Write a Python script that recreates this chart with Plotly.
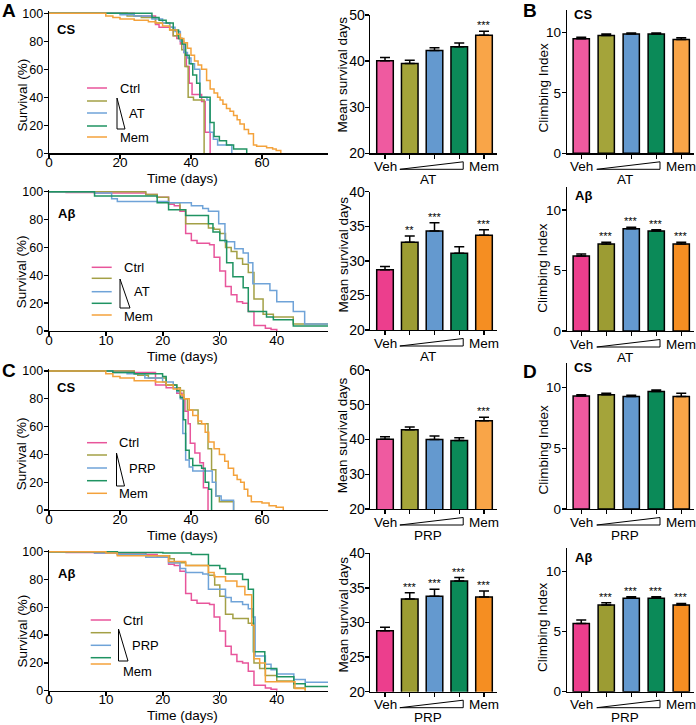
import plotly.graph_objects as go

W, H = 696, 725
FONT = "Liberation Sans, Arial, Helvetica, sans-serif"

# ---------------- data ----------------
groups = ["Veh", "Low", "Mid", "High", "Mem"]

# Panel A - CS survival (days, % alive)
a_cs_ctrl_t = [0, 24, 30, 31, 35, 36, 37, 38, 38.7, 39.5, 40.3, 43, 44, 45.4]
a_cs_ctrl_s = [100, 98, 92, 90, 84, 82, 78, 72, 62, 50, 42, 37, 15, 0]
a_cs_low_t = [0, 22, 26, 30, 34, 35, 36.5, 37.4, 38.3, 39.2, 40.7, 43.7]
a_cs_low_s = [100, 98, 97, 93, 88, 84, 82, 74, 62, 40, 38, 0]
a_cs_mid_t = [0, 20, 24, 29, 32, 34, 35.5, 37, 38, 39, 40, 41, 42.5, 44.5, 45.3, 46.3, 47.5, 51.5]
a_cs_mid_s = [100, 99, 98, 96, 93, 90, 87, 80, 72, 68, 64, 60, 40, 38, 15, 10, 6, 0]
a_cs_high_t = [0, 29, 31, 33, 35, 36.5, 37.5, 38.5, 39.5, 40.5, 41.6, 42.5, 45.4, 46.5, 48, 50, 52, 55.7]
a_cs_high_s = [100, 97, 95, 93, 88, 82, 78, 70, 64, 56, 50, 40, 22, 12, 9, 6, 3, 0]
a_cs_mem_t = [0, 16, 18, 20, 24, 28, 30, 32, 34, 36, 37, 38, 39, 40, 41, 42, 43, 44.4, 45.4, 46.5,
              47.5, 48.2, 49, 50, 51, 52, 53, 53.8, 55, 56.2, 57.6, 58.5, 61.3, 63, 64, 65.3]
a_cs_mem_s = [100, 98, 97, 96, 95, 94, 93, 91, 88, 85, 82, 79, 75, 70, 66, 63, 60, 52, 46, 43,
              40, 38, 35, 32, 30, 27, 24, 21, 17, 14, 6, 5, 4, 3, 2, 0]

# Panel A - Abeta survival
ab_ctrl_t = [0, 3, 8, 17, 19, 21, 22, 23, 24, 25, 26, 28.2, 29, 30, 31, 32, 33, 34, 35, 36, 38, 39, 40]
ab_ctrl_s = [100, 99.5, 99, 98, 96, 91, 90, 86, 70, 65, 63, 62, 53, 43, 32, 26, 21, 20, 14, 4, 2, 1, 0]
a_ab_low_t = [0, 17, 19, 21, 23, 24, 28, 29, 30, 31, 32, 33, 34, 35, 36, 37.6, 39.4, 42.9, 49]
a_ab_low_s = [100, 98, 96, 92, 87, 77, 74, 73, 70, 60, 57, 52, 48, 42, 23, 12, 10, 5, 5]
a_ab_mid_t = [0, 8, 11, 12, 21, 25, 27, 28, 29.8, 30.9, 32.6, 34.1, 35, 35.8, 38.8, 40, 42.9, 44.9, 49]
a_ab_mid_s = [100, 99, 95, 93, 92, 90, 88, 86, 77, 64, 59, 56, 49, 34, 29, 21, 14, 5, 5]
a_ab_high_t = [0, 8, 19, 21, 24, 28, 28.8, 30, 31.2, 32.3, 34.1, 35, 38.2, 39.4, 42.9, 49]
a_ab_high_s = [100, 97, 92, 87, 83, 77, 71, 65, 49, 39, 31, 14, 10, 8, 3.5, 3.5]

# Panel C - CS survival
c_cs_ctrl_t = [0, 24, 30, 33, 36, 37.5, 38.3, 39.2, 39.8, 41.1, 42.5, 43.5, 44.8]
c_cs_ctrl_s = [100, 99, 90, 88, 84, 80, 71, 62, 48, 41, 34, 16, 0]
c_cs_low_t = [0, 24, 25, 28, 33, 36, 37, 38, 39, 42, 44.8, 45.8, 47, 48, 52]
c_cs_low_s = [100, 98, 97, 95, 90, 88, 86, 80, 72, 62, 44, 29, 10, 6, 0]
c_cs_mid_t = [0, 18, 22, 27, 32, 35, 36, 37, 37.7, 38.5, 39.5, 40.5, 46, 47, 48.5, 52]
c_cs_mid_s = [100, 99, 98, 95, 92, 88, 85, 80, 55, 36, 31, 28, 20, 10, 7, 0]
c_cs_high_t = [0, 18, 24, 32, 33, 36, 37, 37.9, 38.5, 39.5, 40.5, 43, 44, 45, 45.8]
c_cs_high_s = [100, 99, 98, 96, 90, 86, 81, 65, 43, 37, 32, 30, 20, 15, 0]
c_cs_mem_t = [0, 16, 18, 20, 24, 30, 33, 35, 37, 38, 39.5, 40.5, 42, 43, 44, 45, 46.5, 48, 49.5,
              50.5, 52, 53, 54, 55, 56, 57, 60, 62, 64, 66]
c_cs_mem_s = [100, 98, 96, 95, 93, 92, 90, 87, 83, 80, 72, 68, 64, 62, 56, 49, 44, 40, 35,
              30, 25, 22, 20, 15, 10, 6, 5, 3, 2, 0]

# Panel C - Abeta survival
c_ab_low_t = [0, 12, 17, 21.2, 22, 24, 28, 29.1, 30, 31, 32.3, 35, 36, 37, 38, 40, 43, 45]
c_ab_low_s = [100, 98, 97, 95, 92, 90, 83, 76, 68, 55, 52, 48.5, 20, 16, 11, 7, 2, 0]
c_ab_mid_t = [0, 8, 12, 17, 21, 23, 24, 27, 28, 31, 32, 34, 35, 35.8, 36.2, 38, 39, 40, 43, 45, 49]
c_ab_mid_s = [100, 99, 98, 96, 92, 88, 85, 84, 73, 67, 64, 62, 59, 53, 25, 19, 15, 12, 8, 6, 6]
c_ab_high_t = [0, 12, 20, 25, 28, 30, 31, 34, 35, 35.9, 37.9, 40, 43, 45, 49]
c_ab_high_s = [100, 99.5, 99, 98, 90, 88, 84, 80, 73, 28, 16, 10, 5, 3, 3]
c_ab_mem_t = [0, 10, 12, 21, 24, 28, 29, 31, 33, 34.4, 35.6, 36, 37, 38, 43.2, 45]
c_ab_mem_s = [100, 99, 97, 93, 90, 85, 82, 79, 75, 69, 47, 23, 20, 6.5, 1.5, 0]

# Mean survival days (bars) and SEM
a_cs_mean = [40.1, 39.5, 42.3, 43.1, 45.6]
a_cs_mean_err = [0.7, 0.7, 0.6, 0.8, 0.9]
a_ab_mean = [28.7, 32.7, 34.3, 31.1, 33.7]
a_ab_mean_err = [0.5, 0.9, 1.2, 0.95, 0.8]
c_cs_mean = [40.1, 42.8, 40.0, 39.7, 45.4]
c_cs_mean_err = [0.7, 0.8, 1.0, 0.8, 1.0]
c_ab_mean = [28.8, 33.4, 33.8, 36.0, 33.7]
c_ab_mean_err = [0.5, 0.9, 1.0, 0.5, 0.85]

# Climbing index (bars) and SEM
b_cs_climb = [9.47, 9.75, 9.86, 9.86, 9.42]
b_cs_climb_err = [0.13, 0.11, 0.08, 0.08, 0.13]
b_ab_climb = [6.2, 7.19, 8.46, 8.26, 7.19]
b_ab_climb_err = [0.16, 0.14, 0.11, 0.11, 0.14]
d_cs_climb = [9.31, 9.4, 9.26, 9.67, 9.26]
d_cs_climb_err = [0.09, 0.13, 0.11, 0.14, 0.27]
d_ab_climb = [5.69, 7.22, 7.78, 7.78, 7.22]
d_ab_climb_err = [0.28, 0.2, 0.14, 0.14, 0.14]

# significance marks
a_cs_mean_sig = ["", "", "", "", "***"]
a_ab_mean_sig = ["", "**", "***", "", "***"]
c_cs_mean_sig = ["", "", "", "", "***"]
c_ab_mean_sig = ["", "***", "***", "***", "***"]
b_cs_climb_sig = ["", "", "", "", ""]
b_ab_climb_sig = ["", "***", "***", "***", "***"]
d_cs_climb_sig = ["", "", "", "", ""]
d_ab_climb_sig = ["", "***", "***", "***", "***"]

# ---------------- styling ----------------
LINE = ['#e8559b', '#a3a046', '#6fa3d8', '#1f9362', '#f4a23b']
BAR_CS = ['#ef5aa0', '#a4a43a', '#6499cf', '#0b8a58', '#f9a548']
BAR_AB = ['#ec3e8d', '#9c9c33', '#6499cf', '#0b8a58', '#f58e22']


def px(x):
    return x / W


def py(y):
    return 1 - y / H


def axn(k, kind):
    return f'{kind}axis' if k == 1 else f'{kind}axis{k}'


def ref(k, kind):
    return kind if k == 1 else f'{kind}{k}'


axis_common = dict(showline=True, linecolor='black', linewidth=1.3, ticks='outside', ticklen=4,
                   tickwidth=1.3, tickcolor='black', showgrid=False, zeroline=False,
                   fixedrange=True, automargin=False)

rows = [
    dict(curves=[(a_cs_ctrl_t, a_cs_ctrl_s), (a_cs_low_t, a_cs_low_s), (a_cs_mid_t, a_cs_mid_s),
                 (a_cs_high_t, a_cs_high_s), (a_cs_mem_t, a_cs_mem_s)],
         xmax=78.6, xticks=[0, 20, 40, 60], surv=(13.3, 153.3),
         mean=a_cs_mean, mean_err=a_cs_mean_err, mean_sig=a_cs_mean_sig, mrange=[20, 50],
         mticks=[20, 30, 40, 50], mdom=(15, 153.3),
         climb=b_cs_climb, climb_err=b_cs_climb_err, climb_sig=b_cs_climb_sig,
         crange=[0, 11.85], cdom=(10, 153.3), bars=BAR_CS, drug='AT', tag='CS',
         title_y=95, mtitle_y=75, ctitle_y=88,
         leg=dict(x0=87, x1=107, ys=[88, 101, 113, 126, 137], tx=118, tri=(117, 125, 98, 129),
                  mid_x=127, mem_y=137)),
    dict(curves=[(ab_ctrl_t, ab_ctrl_s), (a_ab_low_t, a_ab_low_s), (a_ab_mid_t, a_ab_mid_s),
                 (a_ab_high_t, a_ab_high_s), None],
         xmax=49, xticks=[0, 10, 20, 30, 40], surv=(191.7, 331),
         mean=a_ab_mean, mean_err=a_ab_mean_err, mean_sig=a_ab_mean_sig, mrange=[20, 40],
         mticks=[20, 25, 30, 35, 40], mdom=(191.7, 330),
         climb=b_ab_climb, climb_err=b_ab_climb_err, climb_sig=b_ab_climb_sig,
         crange=[0, 11.93], cdom=(186.7, 331), bars=BAR_AB, drug='AT', tag='Aβ',
         title_y=271.7, mtitle_y=255, ctitle_y=268.3,
         leg=dict(x0=91.7, x1=111.7, ys=[267.3, 278.3, 291.7, 303.3, 315], tx=121.7,
                  tri=(120, 130, 279, 308), mid_x=131.7, mem_y=316.7)),
    dict(curves=[(c_cs_ctrl_t, c_cs_ctrl_s), (c_cs_low_t, c_cs_low_s), (c_cs_mid_t, c_cs_mid_s),
                 (c_cs_high_t, c_cs_high_s), (c_cs_mem_t, c_cs_mem_s)],
         xmax=78.6, xticks=[0, 20, 40, 60], surv=(371, 510),
         mean=c_cs_mean, mean_err=c_cs_mean_err, mean_sig=c_cs_mean_sig, mrange=[20, 60],
         mticks=[20, 30, 40, 50, 60], mdom=(370, 509),
         climb=d_cs_climb, climb_err=d_cs_climb_err, climb_sig=d_cs_climb_sig,
         crange=[0, 12.0], cdom=(363.3, 509), bars=BAR_CS, drug='PRP', tag='CS',
         title_y=453.7, mtitle_y=435.8, ctitle_y=450,
         leg=dict(x0=87, x1=107, ys=[442.7, 455, 468, 480.7, 493.3], tx=117,
                  tri=(116.5, 124.5, 453, 486), mid_x=127, mem_y=493.3)),
    dict(curves=[(ab_ctrl_t, ab_ctrl_s), (c_ab_low_t, c_ab_low_s), (c_ab_mid_t, c_ab_mid_s),
                 (c_ab_high_t, c_ab_high_s), (c_ab_mem_t, c_ab_mem_s)],
         xmax=49, xticks=[0, 10, 20, 30, 40], surv=(551.7, 690.7),
         mean=c_ab_mean, mean_err=c_ab_mean_err, mean_sig=c_ab_mean_sig, mrange=[20, 40],
         mticks=[20, 25, 30, 35, 40], mdom=(553.3, 691.7),
         climb=d_ab_climb, climb_err=d_ab_climb_err, climb_sig=d_ab_climb_sig,
         crange=[0, 11.95], cdom=(548.3, 691.7), bars=BAR_AB, drug='PRP', tag='Aβ',
         title_y=631, mtitle_y=615, ctitle_y=627.5,
         leg=dict(x0=90.7, x1=111, ys=[620, 632.7, 645.3, 657.7, 664], tx=121,
                  tri=(118.5, 128, 629, 661), mid_x=130, mem_y=671.5)),
]

fig = go.Figure()
layout = dict(width=W, height=H, autosize=False,
              margin=dict(l=0, r=0, t=0, b=0, pad=0, autoexpand=False),
              paper_bgcolor='white', plot_bgcolor='white', showlegend=False,
              font=dict(family=FONT, size=13, color='black'))
ann = []
shapes = []


def text(x, y, s, size=13, bold=False, xanchor='center', yanchor='middle', angle=0):
    ann.append(dict(x=px(x), y=py(y), xref='paper', yref='paper', text=f'<b>{s}</b>' if bold else s,
                    showarrow=False, xanchor=xanchor, yanchor=yanchor, textangle=angle,
                    font=dict(family=FONT, size=size, color='black')))


xpos = list(range(len(groups)))

for r, R in enumerate(rows):
    ks, km, kc = 3 * r + 1, 3 * r + 2, 3 * r + 3
    top, bot = R['surv']
    pad = (bot - top) / 100 * 1.5
    # survival axes
    layout[axn(ks, 'x')] = dict(axis_common, domain=[px(49), px(328)], range=[0, R['xmax']],
                                tickvals=R['xticks'], anchor=ref(ks, 'y'),
                                tickfont=dict(size=13.5), ticklabelstandoff=-8)
    layout[axn(ks, 'y')] = dict(axis_common, domain=[py(bot), py(top - pad)], range=[0, 101.5],
                                tickvals=[0, 20, 40, 60, 80, 100], anchor=ref(ks, 'x'),
                                tickfont=dict(size=12.5), ticklabelstandoff=-2)
    for i, c in enumerate(R['curves']):
        if c is None:
            continue
        fig.add_trace(go.Scatter(x=c[0], y=c[1], mode='lines',
                                 line=dict(color=LINE[i], width=1.5, shape='hv'),
                                 xaxis=ref(ks, 'x'), yaxis=ref(ks, 'y'), hoverinfo='skip'))
    # mean survival bars
    mt, mb = R['mdom']
    layout[axn(km, 'x')] = dict(axis_common, domain=[px(370), px(497)], range=[-0.606, 4.525],
                                tickvals=xpos, ticktext=[''] * 5, anchor=ref(km, 'y'))
    layout[axn(km, 'y')] = dict(axis_common, domain=[py(mb), py(mt)], range=R['mrange'],
                                tickvals=R['mticks'], anchor=ref(km, 'x'),
                                tickfont=dict(size=14), ticklabelstandoff=-3)
    fig.add_trace(go.Bar(x=xpos, y=R['mean'], width=0.67,
                         marker=dict(color=R['bars'], line=dict(color='black', width=1.5)),
                         error_y=dict(type='data', symmetric=False, array=R['mean_err'],
                                      arrayminus=[0] * 5, color='black', thickness=1.5, width=5),
                         xaxis=ref(km, 'x'), yaxis=ref(km, 'y'), hoverinfo='skip'))
    # climbing bars
    ct, cb = R['cdom']
    layout[axn(kc, 'x')] = dict(axis_common, domain=[px(567), px(694)], range=[-0.57, 4.51],
                                tickvals=xpos, ticktext=[''] * 5, anchor=ref(kc, 'y'))
    layout[axn(kc, 'y')] = dict(axis_common, domain=[py(cb), py(ct)], range=R['crange'],
                                tickvals=[0, 5, 10], anchor=ref(kc, 'x'),
                                tickfont=dict(size=13.5), ticklabelstandoff=-2)
    fig.add_trace(go.Bar(x=xpos, y=R['climb'], width=0.65,
                         marker=dict(color=R['bars'], line=dict(color='black', width=1.5)),
                         error_y=dict(type='data', symmetric=False, array=R['climb_err'],
                                      arrayminus=[0] * 5, color='black', thickness=1.5, width=5),
                         xaxis=ref(kc, 'x'), yaxis=ref(kc, 'y'), hoverinfo='skip'))
    # significance marks
    for k, vals, errs, sig in [(km, R['mean'], R['mean_err'], R['mean_sig']),
                               (kc, R['climb'], R['climb_err'], R['climb_sig'])]:
        for i in xpos:
            if sig[i]:
                ann.append(dict(x=i, y=vals[i] + errs[i], xref=ref(k, 'x'), yref=ref(k, 'y'),
                                text=sig[i], showarrow=False, yanchor='bottom', yshift=-2,
                                font=dict(family=FONT, size=11, color='black')))
    # category labels, wedge, drug name
    for k, axb, (w0, w1) in [(km, mb, (0.6, 3.16)), (kc, cb, (0.62, 3.15))]:
        for i, lab in [(0, 'Veh'), (4, 'Mem')]:
            ann.append(dict(x=i, y=py(axb + 13), xref=ref(k, 'x'), yref='paper', text=lab,
                            showarrow=False, yanchor='middle',
                            font=dict(family=FONT, size=13.5, color='black')))
        ann.append(dict(x=1.75, y=py(axb + 26), xref=ref(k, 'x'), yref='paper', text=R['drug'],
                        showarrow=False, yanchor='middle',
                        font=dict(family=FONT, size=13.5, color='black')))
        yb, yt = py(axb + 16), py(axb + 8.5)
        shapes.append(dict(type='path', xref=ref(k, 'x'), yref='paper',
                           path=f'M {w0},{yb} L {w1},{yb} L {w1},{yt} Z',
                           line=dict(color='black', width=1), fillcolor='rgba(0,0,0,0)'))
    # axis titles
    text(21.5, R['title_y'], 'Survival (%)', size=13.5, angle=-90)
    text(182, bot + 25, 'Time (days)', size=13.5)
    text(342.5, R['mtitle_y'], 'Mean survival days', size=13.5, angle=-90)
    text(542.5, R['ctitle_y'], 'Climbing Index', size=13.5, angle=-90)
    # in-panel tags
    text(66, top + (16 if r % 2 == 0 else 21.5), R['tag'], size=13, bold=True)
    text(583, ct + (4.5 if r % 2 == 0 else 9.3), R['tag'], size=13, bold=True)
    # legend
    L = R['leg']
    for i, yy in enumerate(L['ys']):
        shapes.append(dict(type='line', xref='paper', yref='paper', x0=px(L['x0']), x1=px(L['x1']),
                           y0=py(yy), y1=py(yy), line=dict(color=LINE[i], width=1.5)))
    text(L['tx'], L['ys'][0], 'Ctrl', size=13, xanchor='left')
    text(L['tx'], L['mem_y'], 'Mem', size=13, xanchor='left')
    text(L['mid_x'], L['ys'][2], R['drug'], size=13, xanchor='left')
    tx0, tx1, ty0, ty1 = L['tri']
    shapes.append(dict(type='path', xref='paper', yref='paper',
                       path=f'M {px(tx0)},{py(ty0)} L {px(tx0)},{py(ty1)} L {px(tx1)},{py(ty1)} Z',
                       line=dict(color='black', width=1), fillcolor='rgba(0,0,0,0)'))

# panel letters
text(8.5, 10, 'A', size=19, bold=True)
text(530, 10, 'B', size=19, bold=True)
text(8.5, 371, 'C', size=19, bold=True)
text(530, 371.5, 'D', size=19, bold=True)

layout['annotations'] = ann
layout['shapes'] = shapes
fig.update_layout(**layout)
fig.write_html("out.html", config=dict(displayModeBar=False, staticPlot=True),
               post_script="document.body.style.margin='0';"
                           "document.documentElement.style.overflow='hidden';")
